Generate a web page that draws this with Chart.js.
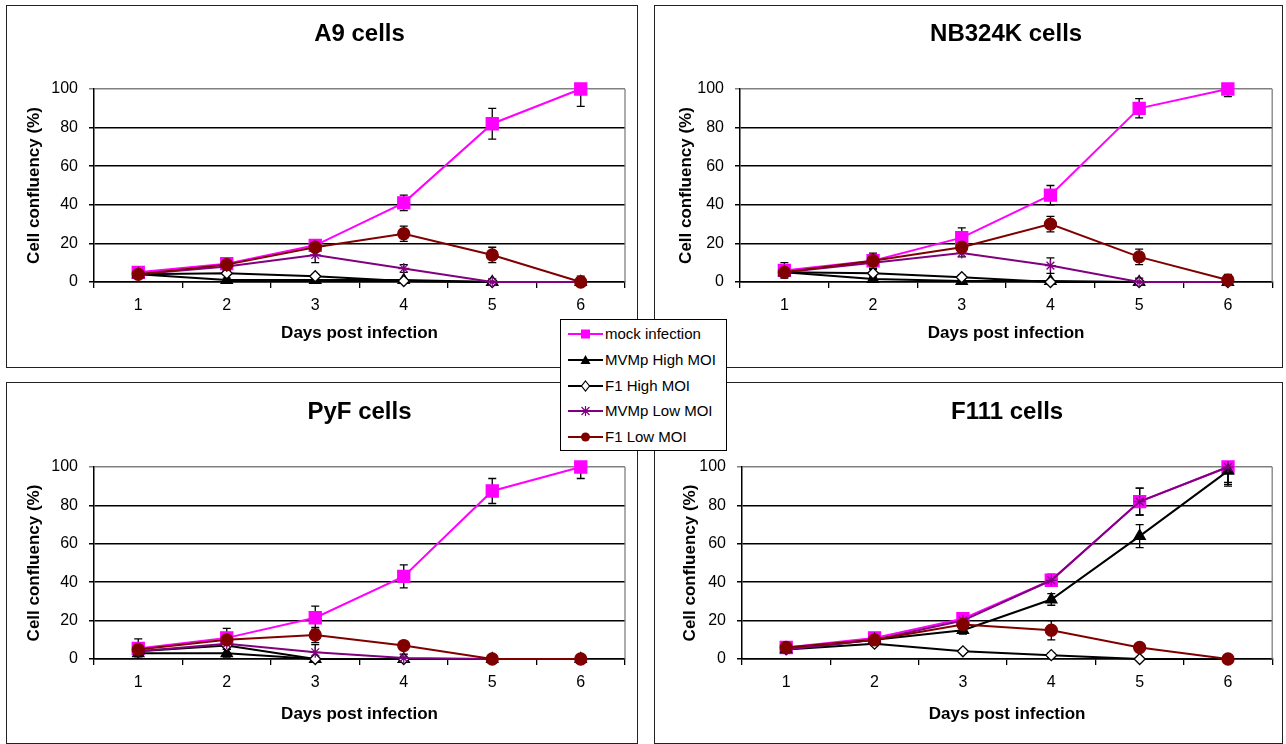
<!DOCTYPE html>
<html>
<head>
<meta charset="utf-8">
<title>Cell confluency</title>
<script src="https://cdn.jsdelivr.net/npm/chart.js"></script>
<style>
    body {
        margin: 0;
        width: 1286px;
        height: 744px;
        position: relative;
        overflow: hidden;
        background: #fff;
        font-family: "Liberation Sans", Arial, sans-serif;
    }
    .panel {
        position: absolute;
        box-sizing: border-box;
        border: 1px solid #222;
        background: #fff;
    }
    .panel canvas {
        position: absolute;
        left: 0;
        top: 0;
    }
    #legend {
        position: absolute;
        left: 560px;
        top: 319px;
        width: 167px;
        height: 132px;
        box-sizing: border-box;
        border: 1px solid #000;
        background: #fff;
    }
    .row {
        position: absolute;
        left: 0;
        height: 20px;
        font-size: 15px;
        line-height: 20px;
        color: #000;
        white-space: nowrap;
    }
    .row svg { position: absolute; left: 5px; top: 2px; }
    .row span { position: absolute; left: 44px; top: 0; }
</style>
</head>
<body>
<div class="panel" id="p-a9"><canvas id="c-a9"></canvas></div>
<div class="panel" id="p-nb"><canvas id="c-nb"></canvas></div>
<div class="panel" id="p-pyf"><canvas id="c-pyf"></canvas></div>
<div class="panel" id="p-f111"><canvas id="c-f111"></canvas></div>
<div id="legend"></div>
<script>
    // categories and ticks
    const days = ['1', '2', '3', '4', '5', '6'];
    const yTicks = [0, 20, 40, 60, 80, 100];
    const seriesNames = ['mock infection', 'MVMp High MOI', 'F1 High MOI', 'MVMp Low MOI', 'F1 Low MOI'];

    // A9 cells
    const a9Mock = [5, 9.5, 19, 41, 82, 100];
    const a9MvmHigh = [4, 1, 1, 1, 0, 0];
    const a9F1High = [4, 4.5, 3, 0.5, 0, 0];
    const a9MvmLow = [4, 8, 14, 7, 0, 0];
    const a9F1Low = [4, 9, 18, 25, 14, 0];
    const a9MockErr = [1, 3, 2, 4, 8, 9];
    const a9MvmHighErr = [1, 1, 0, 0, 0, 0];
    const a9F1HighErr = [1, 1, 1, 0, 0, 0];
    const a9MvmLowErr = [1, 2, 4, 2, 1, 0];
    const a9F1LowErr = [1, 3, 2, 4, 4, 3];

    // NB324K cells
    const nbMock = [6, 11, 23, 45, 90, 100];
    const nbMvmHigh = [5, 1.5, 0.5, 0.5, 0, 0];
    const nbF1High = [5, 4.5, 2.5, 0, 0, 0];
    const nbMvmLow = [5, 10, 15, 8.5, 0, 0];
    const nbF1Low = [5, 11, 18, 30, 13, 1];
    const nbMockErr = [4, 4, 5, 5, 5, 4];
    const nbMvmHighErr = [2, 1, 1, 0, 0, 0];
    const nbF1HighErr = [2, 2, 1, 0, 0, 0];
    const nbMvmLowErr = [2, 2, 2, 4, 2, 0];
    const nbF1LowErr = [2, 3, 2, 4, 4, 3];

    // PyF cells
    const pyfMock = [5.5, 11, 21.5, 43, 87.5, 100];
    const pyfMvmHigh = [3, 3, 0, 0, 0, 0];
    const pyfF1High = [4, 7, 0, 0, 0, 0];
    const pyfMvmLow = [4, 8, 3.5, 0.5, 0, 0];
    const pyfF1Low = [5, 10, 12.5, 7, 0, 0];
    const pyfMockErr = [5, 5, 6, 6, 6.5, 6];
    const pyfMvmHighErr = [3, 2, 0, 0, 0, 0];
    const pyfF1HighErr = [2, 2, 1, 0, 0, 0];
    const pyfMvmLowErr = [2, 2, 4, 2, 0, 0];
    const pyfF1LowErr = [2, 3, 4, 2, 2, 2];

    // F111 cells
    const f111Mock = [6, 11, 21, 41, 82, 100];
    const f111MvmHigh = [5, 10, 15, 31, 64, 98];
    const f111F1High = [5, 8, 4, 2, 0, 0];
    const f111MvmLow = [5, 10, 20, 41, 82, 100];
    const f111F1Low = [6, 10, 18, 15, 6, 0];
    const f111MockErr = [2, 2, 2, 3, 7, 8];
    const f111MvmHighErr = [1, 1, 2, 3, 6, 8];
    const f111F1HighErr = [1, 1, 1, 1, 0, 0];
    const f111MvmLowErr = [1, 1, 2, 3, 7, 9];
    const f111F1LowErr = [1, 1, 1, 5, 1, 1];

    const seriesStyle = [
        { color: '#ff00ff', point: 'rect', radius: 8.5, fill: '#ff00ff' },
        { color: '#000000', point: 'triangle', radius: 6.5, fill: '#000000' },
        { color: '#000000', point: 'rectRot', radius: 5.5, fill: '#ffffff' },
        { color: '#800080', point: 'star', radius: 5.5, fill: '#800080' },
        { color: '#800000', point: 'circle', radius: 6, fill: '#800000' }
    ];

    // page positions of each panel box and its plot area
    const panels = [
        { id: 'a9', title: 'A9 cells', box: [6, 5, 632, 363], area: [94, 89, 625, 282], titleY: 34, yTitleX: 34, xTitleY: 333,
          values: [a9Mock, a9MvmHigh, a9F1High, a9MvmLow, a9F1Low],
          errors: [a9MockErr, a9MvmHighErr, a9F1HighErr, a9MvmLowErr, a9F1LowErr] },
        { id: 'nb', title: 'NB324K cells', box: [654, 5, 629, 363], area: [740, 89, 1275, 282], titleY: 34, yTitleX: 686, xTitleY: 333,
          values: [nbMock, nbMvmHigh, nbF1High, nbMvmLow, nbF1Low],
          errors: [nbMockErr, nbMvmHighErr, nbF1HighErr, nbMvmLowErr, nbF1LowErr] },
        { id: 'pyf', title: 'PyF cells', box: [6, 382, 632, 362], area: [94, 467, 625, 659], titleY: 412, yTitleX: 34, xTitleY: 714,
          values: [pyfMock, pyfMvmHigh, pyfF1High, pyfMvmLow, pyfF1Low],
          errors: [pyfMockErr, pyfMvmHighErr, pyfF1HighErr, pyfMvmLowErr, pyfF1LowErr] },
        { id: 'f111', title: 'F111 cells', box: [654, 382, 629, 362], area: [742, 467, 1274, 659], titleY: 412, yTitleX: 690, xTitleY: 714,
          values: [f111Mock, f111MvmHigh, f111F1High, f111MvmLow, f111F1Low],
          errors: [f111MockErr, f111MvmHighErr, f111F1HighErr, f111MvmLowErr, f111F1LowErr] }
    ];

    const FONT = "'Liberation Sans', Arial, sans-serif";

    const errorBars = {
        id: 'errorBars',
        beforeDatasetsDraw(chart) {
            const { ctx, chartArea, scales: { x, y } } = chart;
            ctx.save();
            ctx.beginPath();
            ctx.rect(chartArea.left, chartArea.top - 1, chartArea.right - chartArea.left, chartArea.bottom - chartArea.top + 1);
            ctx.clip();
            ctx.strokeStyle = '#000';
            ctx.lineWidth = 1.3;
            chart.data.datasets.forEach(ds => {
                ds.data.forEach((v, j) => {
                    const e = ds.errors[j];
                    if (!e) return;
                    const px = x.getPixelForValue(j);
                    const yTop = y.getPixelForValue(v + e);
                    const yBot = y.getPixelForValue(v - e);
                    ctx.beginPath();
                    ctx.moveTo(px, yTop); ctx.lineTo(px, yBot);
                    ctx.moveTo(px - 4, yTop); ctx.lineTo(px + 4, yTop);
                    ctx.moveTo(px - 4, yBot); ctx.lineTo(px + 4, yBot);
                    ctx.stroke();
                });
            });
            ctx.restore();
            // gray right edge of the plot area
            ctx.save();
            ctx.strokeStyle = '#808080';
            ctx.lineWidth = 1.3;
            ctx.beginPath();
            ctx.moveTo(chartArea.right, chartArea.top);
            ctx.lineTo(chartArea.right, chartArea.bottom);
            ctx.stroke();
            ctx.restore();
        }
    };

    panels.forEach(p => {
        const [bl, bt, bw, bh] = p.box;
        const div = document.getElementById('p-' + p.id);
        div.style.left = bl + 'px';
        div.style.top = bt + 'px';
        div.style.width = bw + 'px';
        div.style.height = bh + 'px';
        const ox = bl + 1, oy = bt + 1, cw = bw - 2, ch = bh - 2;
        const canvas = document.getElementById('c-' + p.id);
        canvas.width = cw;
        canvas.height = ch;

        const L = p.area[0] - ox, T = p.area[1] - oy, R = p.area[2] - ox, B = p.area[3] - oy;
        const tY = p.titleY - oy;

        const datasets = seriesNames.map((name, i) => ({
            label: name,
            data: p.values[i],
            errors: p.errors[i],
            order: seriesNames.length - i,
            borderColor: seriesStyle[i].color,
            borderWidth: 2,
            pointStyle: seriesStyle[i].point,
            pointRadius: seriesStyle[i].radius,
            pointBackgroundColor: seriesStyle[i].fill,
            pointBorderColor: seriesStyle[i].color,
            pointBorderWidth: 1.3,
            tension: 0,
            clip: false
        }));

        new Chart(canvas, {
            type: 'line',
            data: { labels: days, datasets: datasets },
            options: {
                responsive: false,
                animation: false,
                events: [],
                layout: { padding: { left: 0, top: 0, bottom: 0, right: cw - R } },
                plugins: {
                    legend: { display: false },
                    tooltip: { enabled: false },
                    title: {
                        display: true,
                        fullSize: false,
                        text: p.title,
                        color: '#000',
                        font: { family: FONT, size: 24, weight: 'bold', lineHeight: 1.2 },
                        padding: { top: tY - 14.4, bottom: T - tY - 14.4 }
                    }
                },
                scales: {
                    x: {
                        offset: true,
                        afterFit: s => { s.height = ch - B; },
                        grid: { display: true, drawOnChartArea: false, drawTicks: true, tickLength: 6, offset: true, color: '#000', lineWidth: 1.3 },
                        border: { display: true, color: '#000', width: 1.5 },
                        ticks: { color: '#000', font: { family: FONT, size: 16 }, padding: 8 },
                        title: {
                            display: true,
                            text: 'Days post infection',
                            color: '#000',
                            font: { family: FONT, size: 17, weight: 'bold', lineHeight: 1.2 },
                            padding: { top: 0, bottom: ch - (p.xTitleY - oy) - 10.2 }
                        }
                    },
                    y: {
                        min: 0,
                        max: 100,
                        afterFit: s => { s.width = L; },
                        afterBuildTicks: s => { s.ticks = yTicks.map(v => ({ value: v })); },
                        grid: {
                            color: c => (c.tick && c.tick.value === 100) ? '#808080' : '#000',
                            lineWidth: 1.5,
                            drawTicks: true,
                            tickLength: 5
                        },
                        border: { display: true, color: '#000', width: 1.5 },
                        ticks: { color: '#000', font: { family: FONT, size: 16 }, padding: 11 },
                        title: {
                            display: true,
                            text: 'Cell confluency (%)',
                            color: '#000',
                            font: { family: FONT, size: 17, weight: 'bold', lineHeight: 1.2 },
                            padding: { top: (p.yTitleX - ox) - 10.2, bottom: 0 }
                        }
                    }
                }
            },
            plugins: [errorBars]
        });
    });

    // legend box (shared by all panels)
    function markerSvg(st) {
        const c = st.color, f = st.fill;
        let m = '';
        if (st.point === 'rect') m = `<rect x="15" y="3.5" width="9" height="9" fill="${f}"/>`;
        if (st.point === 'triangle') m = `<polygon points="19.5,3 24.5,12 14.5,12" fill="${f}"/>`;
        if (st.point === 'rectRot') m = `<polygon points="19.5,3 23.5,8 19.5,13 15.5,8" fill="${f}" stroke="${c}" stroke-width="1.2"/>`;
        if (st.point === 'star') m = `<path d="M19.5 3V13M15.5 4L23.5 12M23.5 4L15.5 12" stroke="${c}" stroke-width="1.2"/>`;
        if (st.point === 'circle') m = `<circle cx="19.5" cy="8" r="4.5" fill="${f}"/>`;
        return `<svg width="40" height="16"><line x1="2" y1="8" x2="37" y2="8" stroke="${c}" stroke-width="2"/>${m}</svg>`;
    }
    const rowCenters = [14, 40, 66, 91, 117];
    const legend = document.getElementById('legend');
    seriesNames.forEach((name, i) => {
        const row = document.createElement('div');
        row.className = 'row';
        row.style.top = (rowCenters[i] - 10) + 'px';
        row.innerHTML = markerSvg(seriesStyle[i]) + '<span>' + name + '</span>';
        legend.appendChild(row);
    });
</script>
</body>
</html>
